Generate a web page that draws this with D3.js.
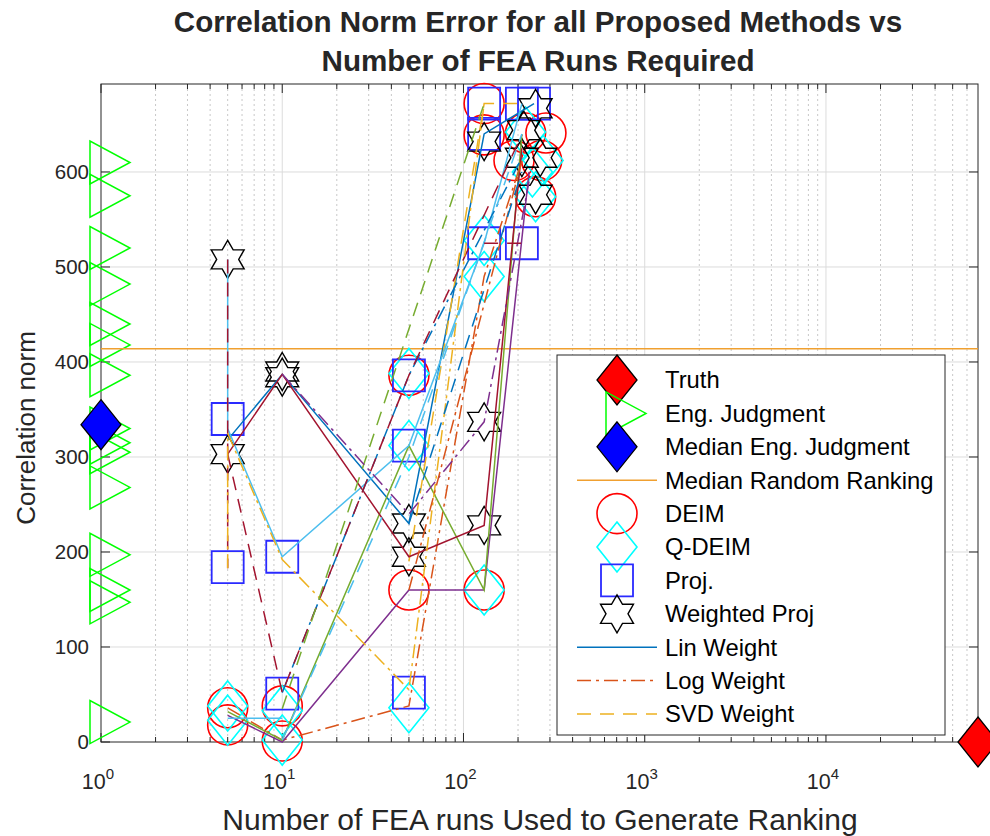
<!DOCTYPE html>
<html><head><meta charset="utf-8">
<script src="https://cdn.jsdelivr.net/npm/d3@7"></script>
<style>
body{margin:0;background:#fff}
text{font-family:"Liberation Sans",Arial,Helvetica,sans-serif;fill:#262626}
</style>
</head><body>
<svg id="chart" width="990" height="836"></svg>
<script>
// ---- data ----
const truthRuns = [69000];
const truthNorm = [0];
const engRuns = 1;
const engJudgment = [610, 575, 520, 482, 440, 418, 386, 330, 315, 305, 268, 197, 160, 147, 21];
const medianEngJudgment = [334];
const medianRandomRanking = [414];

const deimRuns = [5, 5, 10, 10, 50, 50, 130, 130, 130, 220, 190, 270, 250, 285];
const deimNorm = [36, 18, 38, 1, 386, 160, 160, 672, 639, 641, 612, 612, 574, 641];

const qdeimRuns = [5, 5, 10, 10, 50, 50, 50, 130, 130, 130, 220, 275, 250, 240];
const qdeimNorm = [38, 23, 33, 2, 388, 312, 36, 160, 528, 490, 642, 612, 574, 600];

const projRuns = [5, 5, 10, 10, 50, 50, 50, 130, 130, 130, 210, 210, 245];
const projNorm = [340, 184, 195, 51, 386, 312, 52, 672, 640, 525, 525, 672, 672];

const wprojRuns = [5, 5, 10, 10, 50, 50, 130, 130, 130, 250, 215, 210, 265, 250];
const wprojNorm = [508, 303, 390, 384, 230, 195, 337, 228, 632, 667, 644, 615, 615, 576];

// weighting curves (runs, norm) per curve
const curveRuns = [
  [5, 10, 50, 130, 245],
  [5, 10, 50, 130, 210],
  [50, 130, 210],
  [5, 10, 50, 130, 230],
  [5, 10, 50, 130, 210],
  [5, 5, 10, 50, 130, 210],
  [5, 10, 50, 130, 210],
  [10, 50, 210],
  [5, 5],
  [5, 10, 50, 210],
  [5, 5, 10, 50, 130],
  [10, 130],
  [10, 50, 210],
  [10, 50, 130, 230],
  [50, 210],
  [50, 210],
  [5, 10],
  [130, 210]
];
const curveNorm = [
  [318, 387, 230, 640, 672],
  [36, 2, 38, 490, 612],
  [190, 672, 672],
  [28, 0, 160, 160, 600],
  [32, 2, 312, 160, 640],
  [508, 330, 195, 312, 525, 672],
  [303, 387, 195, 228, 625],
  [52, 386, 615],
  [508, 183],
  [303, 52, 386, 639],
  [183, 325, 192, 55, 672],
  [35, 672],
  [2, 300, 640],
  [387, 240, 337, 590],
  [160, 612],
  [230, 600],
  [25, 25],
  [525, 525]
];

const xTickExp = [0, 1, 2, 3, 4];
const yTicks = [0, 100, 200, 300, 400, 500, 600];
const legendLabels = ["Truth", "Eng. Judgment", "Median Eng. Judgment", "Median Random Ranking",
  "DEIM", "Q-DEIM", "Proj.", "Weighted Proj", "Lin Weight", "Log Weight", "SVD Weight"];

// ---- styles ----
const C = {blue:"#0072BD", orange:"#D95319", yellow:"#EDB120", purple:"#7E2F8E",
           green:"#77AC30", lblue:"#4DBEEE", dred:"#A2142F"};
const SOLID = null, DASHDOT = "14,5,3,5", DASHED = "14,9";
const curveStyle = [
  [C.blue, SOLID], [C.orange, DASHDOT], [C.yellow, DASHED], [C.purple, SOLID],
  [C.green, SOLID], [C.lblue, SOLID], [C.dred, SOLID], [C.blue, DASHDOT],
  [C.dred, DASHED], [C.dred, DASHED], [C.yellow, DASHDOT], [C.green, DASHED],
  [C.lblue, DASHED], [C.purple, DASHDOT], [C.orange, DASHDOT], [C.blue, DASHED],
  [C.lblue, SOLID], [C.dred, DASHED]
];
const medianLineColor = "#F0A030";

// ---- layout ----
const svg = d3.select("#chart");
const L = 101, R = 978, T = 84, B = 742;
const x = d3.scaleLog().domain([1, 69000]).range([L, R]);
const y = d3.scaleLinear().domain([0, 692.6]).range([B, T]);

// marker shapes
const diamondPath = (hw, hh) => `M0,${-hh}L${hw},0L0,${hh}L${-hw},0Z`;
const trianglePath = () => `M-11,-21.5L-11,21.5L29,0Z`;
const squarePath = (h) => `M${-h},${-h}H${h}V${h}H${-h}Z`;
function hexagramPath(Ro, Ri) {
  const pts = [];
  for (let i = 0; i < 12; i++) {
    const a = -Math.PI / 2 + i * Math.PI / 6;
    const r = i % 2 === 0 ? Ro : Ri;
    pts.push([r * Math.cos(a), r * Math.sin(a)]);
  }
  return "M" + pts.map(p => p[0].toFixed(2) + "," + p[1].toFixed(2)).join("L") + "Z";
}
const circlePath = (r) => `M${r},0A${r},${r} 0 1,1 ${-r},0A${r},${r} 0 1,1 ${r},0Z`;

const marker = {
  truth: {d: diamondPath(20, 25), fill: "#FF0000", stroke: "#000", sw: 1.3},
  eng: {d: trianglePath(), fill: "none", stroke: "#00FF00", sw: 1.5},
  medEng: {d: diamondPath(20, 25), fill: "#0000FF", stroke: "#000", sw: 1.3},
  deim: {d: circlePath(20), fill: "none", stroke: "#FF0000", sw: 1.6},
  qdeim: {d: diamondPath(20, 25), fill: "none", stroke: "#00FFFF", sw: 1.6},
  proj: {d: squarePath(16), fill: "none", stroke: "#2A2AFF", sw: 1.8},
  wproj: {d: hexagramPath(19, 11), fill: "none", stroke: "#000", sw: 1.4}
};

// ---- grid ----
const grid = svg.append("g");
const minorX = [];
for (let e = 0; e < 5; e++) for (let k = 2; k <= 9; k++) {
  const v = k * Math.pow(10, e);
  if (v < 69000) minorX.push(v);
}
grid.selectAll("line.mx").data(minorX).enter().append("line")
  .attr("x1", d => x(d)).attr("x2", d => x(d)).attr("y1", T).attr("y2", B)
  .attr("stroke", "#c8c8c8").attr("stroke-width", 1).attr("stroke-dasharray", "2,3");
grid.selectAll("line.gx").data(xTickExp.slice(1)).enter().append("line")
  .attr("x1", d => x(Math.pow(10, d))).attr("x2", d => x(Math.pow(10, d))).attr("y1", T).attr("y2", B)
  .attr("stroke", "#dcdcdc").attr("stroke-width", 1);
grid.selectAll("line.gy").data(yTicks.slice(1)).enter().append("line")
  .attr("x1", L).attr("x2", R).attr("y1", d => y(d)).attr("y2", d => y(d))
  .attr("stroke", "#dcdcdc").attr("stroke-width", 1);

// ---- axes frame & ticks ----
const ax = svg.append("g").attr("stroke", "#262626").attr("stroke-width", 1);
ax.append("rect").attr("x", L).attr("y", T).attr("width", R - L).attr("height", B - T).attr("fill", "none");
xTickExp.forEach(e => {
  const px = x(Math.pow(10, e));
  ax.append("line").attr("x1", px).attr("x2", px).attr("y1", B).attr("y2", B - 9);
  ax.append("line").attr("x1", px).attr("x2", px).attr("y1", T).attr("y2", T + 9);
});
minorX.forEach(v => {
  const px = x(v);
  ax.append("line").attr("x1", px).attr("x2", px).attr("y1", B).attr("y2", B - 5);
  ax.append("line").attr("x1", px).attr("x2", px).attr("y1", T).attr("y2", T + 5);
});
yTicks.forEach(v => {
  ax.append("line").attr("x1", L).attr("x2", L + 9).attr("y1", y(v)).attr("y2", y(v));
  ax.append("line").attr("x1", R).attr("x2", R - 9).attr("y1", y(v)).attr("y2", y(v));
});

// tick labels
svg.append("g").selectAll("text").data(yTicks).enter().append("text")
  .attr("x", 89).attr("y", d => y(d)).attr("dy", "0.36em")
  .attr("text-anchor", "end").attr("font-size", 20.5).text(d => d);
const xl = svg.append("g").selectAll("text").data(xTickExp).enter().append("text")
  .attr("x", d => x(Math.pow(10, d)) - 3).attr("y", 789)
  .attr("text-anchor", "middle").attr("font-size", 21.5);
xl.append("tspan").text("10");
xl.append("tspan").attr("dy", -10).attr("font-size", 15).text(d => d);

// axis titles
svg.append("text").attr("x", 540).attr("y", 830).attr("text-anchor", "middle")
  .attr("font-size", 30).text("Number of FEA runs Used to Generate Ranking");
svg.append("text").attr("transform", "translate(35,428) rotate(-90)").attr("text-anchor", "middle")
  .attr("font-size", 26).text("Correlation norm");
const title = svg.append("text").attr("text-anchor", "middle").attr("font-size", 29.6).attr("font-weight", "bold");
title.append("tspan").attr("x", 538).attr("y", 32).text("Correlation Norm Error for all Proposed Methods vs");
title.append("tspan").attr("x", 538).attr("y", 71).text("Number of FEA Runs Required");

// ---- data layer ----
const data = svg.append("g");
function drawMarkers(runs, norms, m) {
  data.append("g").selectAll("path").data(runs.map((r, i) => [r, norms[i]])).enter().append("path")
    .attr("d", m.d).attr("transform", d => `translate(${x(d[0])},${y(d[1])})`)
    .attr("fill", m.fill).attr("stroke", m.stroke).attr("stroke-width", m.sw);
}
drawMarkers(truthRuns, truthNorm, marker.truth);
drawMarkers(engJudgment.map(() => engRuns), engJudgment, marker.eng);
drawMarkers([engRuns], medianEngJudgment, marker.medEng);
data.append("line").attr("x1", L).attr("x2", R)
  .attr("y1", y(medianRandomRanking[0])).attr("y2", y(medianRandomRanking[0]))
  .attr("stroke", medianLineColor).attr("stroke-width", 1.4);
drawMarkers(deimRuns, deimNorm, marker.deim);
drawMarkers(qdeimRuns, qdeimNorm, marker.qdeim);
drawMarkers(projRuns, projNorm, marker.proj);
drawMarkers(wprojRuns, wprojNorm, marker.wproj);

const lineGen = d3.line().x(d => x(d[0])).y(d => y(d[1]));
curveRuns.forEach((runs, i) => {
  const pts = runs.map((r, j) => [r, curveNorm[i][j]]);
  data.append("path").attr("d", lineGen(pts)).attr("fill", "none")
    .attr("stroke", curveStyle[i][0]).attr("stroke-width", 1.5)
    .attr("stroke-dasharray", curveStyle[i][1]);
});

// ---- legend ----
const lg = svg.append("g");
lg.append("rect").attr("x", 557).attr("y", 355).attr("width", 388).attr("height", 380)
  .attr("fill", "#fff").attr("stroke", "#262626").attr("stroke-width", 1);
const rowY = i => 380 + i * 33.4;
const symX = 617;
const legendSymbols = [
  {m: marker.truth}, {m: marker.eng}, {m: marker.medEng}, {line: [medianLineColor, SOLID]},
  {m: marker.deim}, {m: marker.qdeim}, {m: marker.proj}, {m: marker.wproj},
  {line: curveStyle[0]}, {line: curveStyle[1]}, {line: curveStyle[2]}
];
legendSymbols.forEach((s, i) => {
  if (s.m) {
    lg.append("path").attr("d", s.m.d).attr("transform", `translate(${symX},${rowY(i)})`)
      .attr("fill", s.m.fill).attr("stroke", s.m.stroke).attr("stroke-width", s.m.sw);
  } else {
    lg.append("line").attr("x1", 577).attr("x2", 657).attr("y1", rowY(i)).attr("y2", rowY(i))
      .attr("stroke", s.line[0]).attr("stroke-width", 1.5).attr("stroke-dasharray", s.line[1]);
  }
});
lg.selectAll("text").data(legendLabels).enter().append("text")
  .attr("x", 665).attr("y", (d, i) => rowY(i)).attr("dy", "0.35em")
  .attr("font-size", 23.8).style("fill", "#000").text(d => d);
</script>
</body></html>
